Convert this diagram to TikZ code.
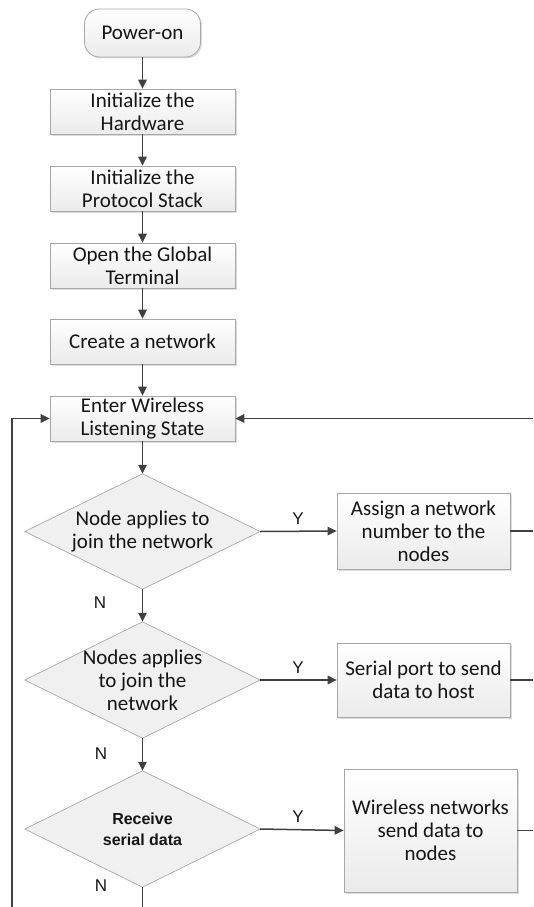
\documentclass[tikz,border=0pt]{standalone}
\usepackage{fontspec}
\setmainfont{Carlito}
\newfontfamily\arialf{Liberation Sans}
\usetikzlibrary{arrows.meta,shadows,backgrounds}
\definecolor{lineg}{HTML}{404040}
\definecolor{boxb}{HTML}{A8A8A8}
\definecolor{txt}{HTML}{151515}
\tikzset{
  procbox/.style={draw=boxb, line width=0.8pt, top color=white, bottom color=gray!16,
    drop shadow={shadow xshift=1.5pt, shadow yshift=-1.5pt, fill=gray!45, opacity=0.6},
    align=center, inner sep=0pt, text=txt, font=\fontsize{21}{23}\selectfont},
  startbox/.style={procbox, rounded corners=15pt},
  decbox/.style={draw=none, rectangle, inner sep=0pt, minimum width=235pt,
    align=center, text=txt, font=\fontsize{21}{23}\selectfont},
  decfill/.style={draw=boxb, line width=0.7pt, fill=gray!12},
  flow/.style={draw=lineg, line width=1.5pt, -{Triangle[length=9pt,width=8.5pt]}},
  plain/.style={draw=lineg, line width=1.5pt},
  yn/.style={font=\arialf\fontsize{17}{19}\selectfont, text=txt, inner sep=0pt}
}
\begin{document}
\begin{tikzpicture}[x=1pt,y=-1pt]
\useasboundingbox (0,0) rectangle (533,907);
\node[startbox, minimum width=116pt, minimum height=48pt] (pw) at (142.5,33) {Power-on};
\node[procbox, minimum width=185pt, minimum height=45pt] (hw) at (142.5,111.5) {Initialize the\\Hardware};
\node[procbox, minimum width=185pt, minimum height=45pt] (ps) at (142.5,188.5) {Initialize the\\Protocol Stack};
\node[procbox, minimum width=185pt, minimum height=45pt] (gt) at (142.5,265.5) {Open the Global\\Terminal};
\node[procbox, minimum width=185pt, minimum height=45pt] (cn) at (142.5,341.5) {Create a network};
\node[procbox, minimum width=185pt, minimum height=45pt] (en) at (142.5,418.5) {Enter Wireless\\Listening State};
\node[decbox, minimum height=115pt] (d1) at (142.5,531.5) {Node applies to\\join the network};
\node[decbox, minimum height=116pt] (d2) at (142.5,680) {Nodes applies\\to join the\\network};
\node[decbox, minimum height=116pt, font=\arialf\bfseries\fontsize{16}{21}\selectfont] (d3) at (142.5,829) {Receive\\serial data};
\begin{scope}[on background layer]
\foreach \d in {d1,d2,d3}
  \draw[decfill] (\d.north) -- (\d.east) -- (\d.south) -- (\d.west) -- cycle;
\end{scope}
\node[procbox, minimum width=173pt, minimum height=76pt] (as) at (423.5,531) {Assign a network\\number to the\\nodes};
\node[procbox, minimum width=173pt, minimum height=74pt] (sp) at (423.5,680) {Serial port to send\\data to host};
\node[procbox, minimum width=173pt, minimum height=123pt] (wn) at (430.5,830.5) {Wireless networks\\send data to\\nodes};
\node[yn] (y1) at (298,519) {Y};
\node[yn] (y2) at (298,668) {Y};
\node[yn] (y3) at (298,817) {Y};
\node[yn] (n1) at (100,603) {N};
\node[yn] (n2) at (101,754) {N};
\node[yn] (n3) at (101,886) {N};
\coordinate (bot) at (142.5,907);
\coordinate (lb) at (12,907);
\coordinate (lt) at (12,418.5);
\coordinate (r1) at (533,531);
\coordinate (r2) at (533,680);
\coordinate (r3) at (533,830.5);
\coordinate (rt) at (533,418.5);
\draw[flow] (pw) -- (hw);
\draw[flow] (hw) -- (ps);
\draw[flow] (ps) -- (gt);
\draw[flow] (gt) -- (cn);
\draw[flow] (cn) -- (en);
\draw[flow] (en) -- (d1);
\draw[flow] (d1) -- (d2);
\draw[flow] (d2) -- (d3);
\draw[plain] (d3) -- (bot);
\draw[flow] (d1.east) -- (as.west);
\draw[flow] (d2.east) -- (sp.west);
\draw[flow] (d3.east) -- (wn.west);
\draw[plain] (as.east) -- (r1);
\draw[plain] (sp.east) -- (r2);
\draw[plain] (wn.east) -- (r3);
\draw[flow] (rt) -- (en.east);
\draw[flow] (lb) -- (lt) -- (en.west);
\end{tikzpicture}
\end{document}
